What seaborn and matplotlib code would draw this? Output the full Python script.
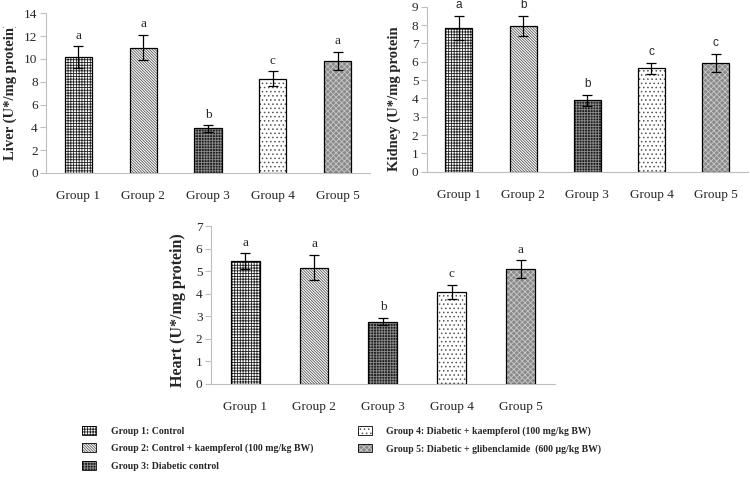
import numpy as np
import pandas as pd
import matplotlib
matplotlib.use("Agg")
import matplotlib.pyplot as plt
import seaborn as sns
from matplotlib.patches import Patch, Rectangle
from matplotlib.transforms import Bbox

groups = ["Group 1", "Group 2", "Group 3", "Group 4", "Group 5"]

liver_vals = [10.15, 11.0, 3.9, 8.28, 9.85]
liver_err = [0.95, 1.12, 0.28, 0.65, 0.8]
liver_sig = ["a", "a", "b", "c", "a"]

kidney_vals = [7.85, 7.97, 3.9, 5.65, 5.95]
kidney_err = [0.65, 0.55, 0.3, 0.3, 0.5]
kidney_sig = ["a", "b", "b", "c", "c"]

heart_vals = [5.45, 5.16, 2.77, 4.07, 5.09]
heart_err = [0.35, 0.57, 0.15, 0.32, 0.4]
heart_sig = ["a", "a", "b", "c", "a"]

legend_labels = [
    "Group 1: Control",
    "Group 2: Control + kaempferol (100 mg/kg BW)",
    "Group 3: Diabetic control",
    "Group 4: Diabetic + kaempferol (100 mg/kg BW)",
    "Group 5: Diabetic + glibenclamide  (600 \u00b5g/kg BW)",
]

# fill / hatch style per group
face_colors = ["white", "white", "#1e1e1e", "white", "#8a8a8a"]
hatch_colors = ["#222222", "#555555", "#8c8c8c", "#555555", "#c8c8c8"]
hatches = ["++++++", "\\" * 12, "++++++", "....", "xxxxxx"]

sns.set_style("white")
plt.rcParams["font.family"] = ["Liberation Serif", "DejaVu Serif"]
plt.rcParams["hatch.linewidth"] = 0.6

AX_GRAY = "#bfbfbf"


def draw_panel(ax, vals, err, sig, ymax, ylabel, label_size, label_x, label_y,
               clip_top, sig_font, sig_size):
    df = pd.DataFrame({"group": groups, "value": vals})
    sns.barplot(data=df, x="group", y="value", ax=ax, width=0.42,
                errorbar=None, color="white")
    for i, p in enumerate(list(ax.patches)):
        p.set_facecolor(face_colors[i])
        p.set_hatch(hatches[i])
        p.set_edgecolor(hatch_colors[i])
        p.set_linewidth(0)
        ax.add_patch(Rectangle(p.get_xy(), p.get_width(), p.get_height(),
                               fill=False, edgecolor="black", linewidth=0.9))
    x = np.arange(len(groups))
    ax.errorbar(x, vals, yerr=err, fmt="none", ecolor="black",
                elinewidth=0.9, capsize=3.5, capthick=0.9)
    for i in range(len(groups)):
        ax.annotate(sig[i], (x[i], vals[i] + err[i]), xytext=(0, 5.5),
                    textcoords="offset points", ha="center", va="baseline",
                    fontsize=sig_size, family=sig_font)
    ax.set_ylim(0, ymax)
    ax.set_xlim(-0.5, 4.5)
    ax.set_yticks(np.arange(0, ymax + 0.1, 2 if ymax > 10 else 1))
    ax.set_xticks(np.arange(-0.5, 5, 1), minor=True)
    ax.tick_params(axis="x", which="major", length=0, labelsize=9.5, pad=12.5)
    ax.tick_params(axis="x", which="minor", length=4, color=AX_GRAY, width=0.8)
    ax.tick_params(axis="y", length=4, color=AX_GRAY, width=0.8,
                   labelsize=9.5, left=True, pad=2)
    ax.set_xlabel("")
    ax.set_ylabel(ylabel, fontsize=label_size, fontweight="bold")
    ax.yaxis.set_label_coords(label_x, label_y)
    if clip_top:
        # label is cut off at the top like in the original
        lab = ax.yaxis.label
        lab.set_clip_on(True)
        lab.set_clip_box(Bbox.from_extents(0, 0, 750, 480 - clip_top))
    for s in ["top", "right"]:
        ax.spines[s].set_visible(False)
    for s in ["left", "bottom"]:
        ax.spines[s].set_color(AX_GRAY)
        ax.spines[s].set_linewidth(0.8)


fig = plt.figure(figsize=(7.5, 4.8), dpi=100)

ax1 = fig.add_axes([0.0613, 0.640, 0.432, 0.332])
draw_panel(ax1, liver_vals, liver_err, liver_sig, 14,
           "Liver (U*/mg protein)", 10.5, -0.09, 0.51, 27,
           ["Liberation Serif"], 9.5)

ax2 = fig.add_axes([0.569, 0.642, 0.428, 0.344])
draw_panel(ax2, kidney_vals, kidney_err, kidney_sig, 9,
           "Kidney (U*/mg protein)", 10.5, -0.08, 0.46, 27,
           ["Liberation Sans"], 8.5)

ax3 = fig.add_axes([0.281, 0.200, 0.459, 0.329])
draw_panel(ax3, heart_vals, heart_err, heart_sig, 7,
           "Heart (U*/mg protein)", 11.5, -0.072, 0.47, 0,
           ["Liberation Serif"], 9.5)

handles = []
for i in range(len(groups)):
    fill = Patch(facecolor=face_colors[i], edgecolor=hatch_colors[i],
                 hatch=hatches[i], linewidth=0)
    edge = Patch(facecolor="none", edgecolor="black", linewidth=0.6)
    handles.append((fill, edge))

fig.legend(handles, legend_labels, loc="upper left",
           bbox_to_anchor=(0.104, 1 - 422 / 480), ncol=2, frameon=False,
           prop={"family": "Liberation Serif", "weight": "bold", "size": 7},
           handlelength=1.45, handleheight=1.0, handletextpad=1.5,
           labelspacing=0.8, columnspacing=4.6, borderaxespad=0)

fig.savefig("out.png", dpi=100)
